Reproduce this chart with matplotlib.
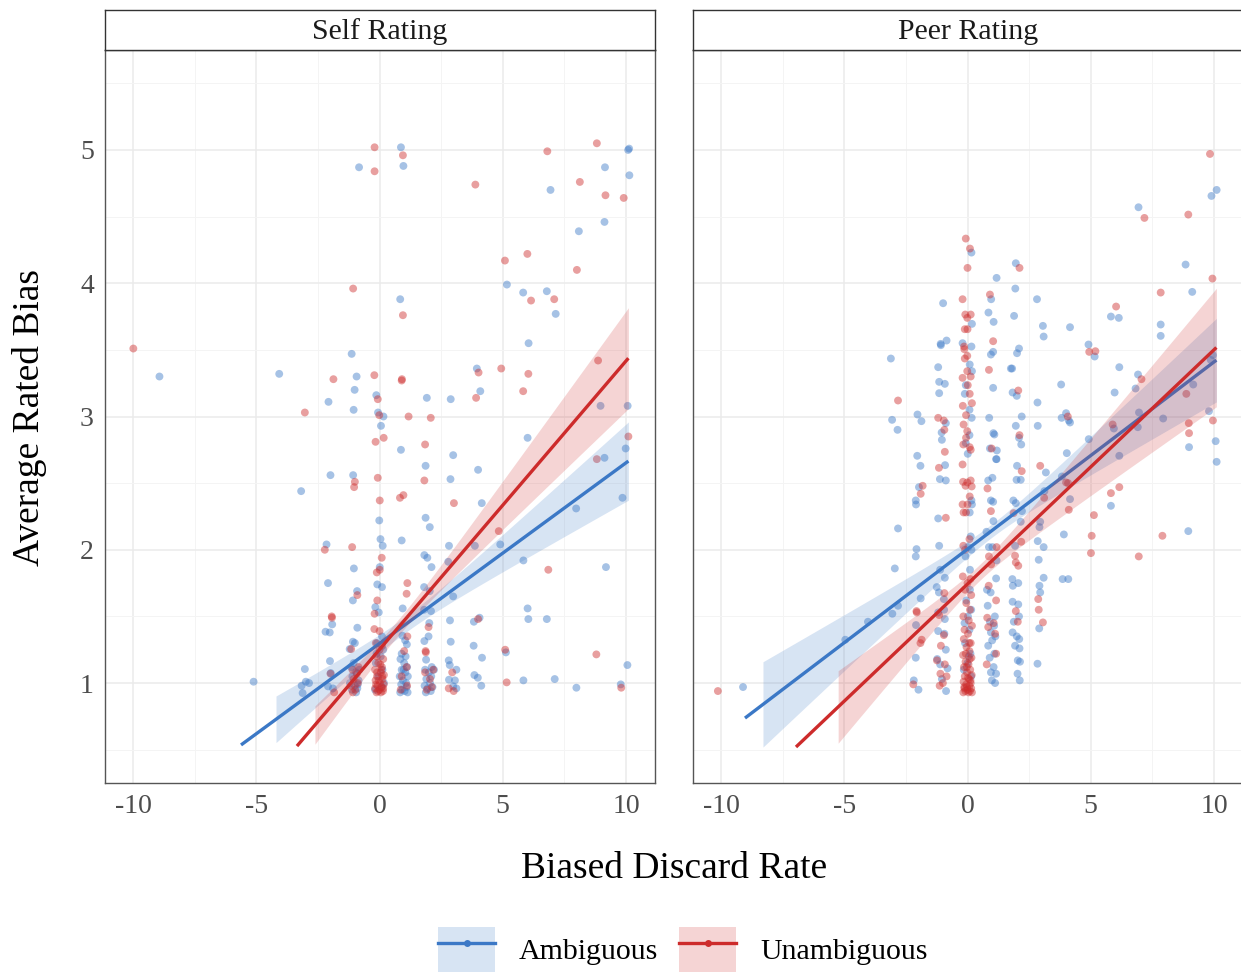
import numpy as np
import matplotlib
matplotlib.use("Agg")
import matplotlib.pyplot as plt
from matplotlib.patches import Patch
from matplotlib.lines import Line2D
from matplotlib.legend_handler import HandlerTuple

plt.rcParams['font.family'] = ['Liberation Serif', 'DejaVu Serif']

BLUE = '#3B78C6'
RED = '#CD2B2B'
GRID_MAJOR = '#EBEBEB'
GRID_MINOR = '#F4F4F4'

groups = ['Ambiguous', 'Unambiguous']
panels = ['Self Rating', 'Peer Rating']

# ---- Self rating, ambiguous items
self_amb = [
    (0.87, 5.02), (-0.83, 4.87), (0.97, 4.88), (6.94, 4.70), (10.09, 5.0), (10.13, 5.01),
    (9.15, 4.87), (10.14, 4.81), (9.13, 4.46), (8.09, 4.39), (5.17, 3.99), (5.83, 3.93),
    (6.79, 3.94), (7.15, 3.77), (0.84, 3.88), (6.05, 3.55), (-8.93, 3.30), (-4.07, 3.32),
    (-1.13, 3.47), (-0.93, 3.30), (-1.01, 3.20), (-2.07, 3.11), (-1.05, 3.05), (-0.13, 3.16),
    (-0.06, 3.03), (0.16, 3.0), (0.06, 2.93), (1.92, 3.14), (2.89, 3.13), (3.95, 3.36),
    (4.09, 3.19), (8.97, 3.08), (10.07, 3.08), (9.99, 2.76), (6.01, 2.84), (0.87, 2.75),
    (2.99, 2.71), (9.13, 2.69),
    (1.87, 2.63), (4.0, 2.60), (-1.99, 2.56), (-1.07, 2.56), (2.88, 2.53), (-3.18, 2.44),
    (4.15, 2.35), (9.86, 2.39), (7.98, 2.31), (1.87, 2.24), (2.04, 2.17), (-0.01, 2.22),
    (0.04, 2.08), (0.13, 2.03), (0.90, 2.07), (-2.15, 2.04), (2.82, 2.03), (3.87, 2.03),
    (4.90, 2.04), (1.82, 1.96), (1.94, 1.94), (2.11, 1.87), (2.79, 1.91), (5.84, 1.92),
    (9.19, 1.87), (-1.04, 1.86), (0.01, 1.87), (-2.09, 1.75), (-0.09, 1.74), (0.10, 1.72),
    (-0.91, 1.69), (1.81, 1.72), (2.04, 1.69), (2.99, 1.65), (-1.08, 1.62), (-0.17, 1.57),
    (-0.03, 1.53), (0.94, 1.56), (1.81, 1.55), (2.09, 1.54), (-1.92, 1.44), (-0.90, 1.415),
    (-2.19, 1.385), (-2.02, 1.38), (2.86, 1.47), (3.83, 1.46), (4.06, 1.49), (6.01, 1.56),
    (6.04, 1.48), (6.79, 1.48), (2.02, 1.45), (0.93, 1.355), (1.11, 1.29), (1.04, 1.32),
    (-1.08, 1.31), (-1.0, 1.30), (1.82, 1.315), (1.99, 1.35), (2.89, 1.31), (3.82, 1.28),
    (-1.21, 1.255), (5.13, 1.23), (4.16, 1.19), (10.06, 1.135), (-2.01, 1.165), (-3.03, 1.105),
    (1.89, 1.175), (2.81, 1.17), (2.85, 1.135), (3.12, 1.10), (2.21, 1.10), (-1.98, 1.075),
    (-5.11, 1.01), (-3.16, 0.98), (-2.99, 1.01), (-2.86, 1.0), (-3.12, 0.925), (-2.09, 0.975),
    (-1.89, 0.96), (2.82, 1.025), (3.06, 1.02), (2.99, 0.975), (3.12, 0.96), (3.85, 1.06),
    (3.99, 1.04), (4.13, 0.98), (5.84, 1.02), (7.11, 1.03), (7.99, 0.965), (9.79, 0.99),
    (-1.15, 1.12), (-0.95, 1.08), (-1.1, 1.05), (-0.85, 1.02), (-1.2, 1.0), (-1.0, 0.98),
    (-0.9, 0.96), (-1.12, 0.95), (-0.95, 0.93), (-0.82, 1.1), (-1.05, 1.15), (-0.88, 0.99),
    (-0.1, 1.3), (0.15, 1.25), (0.05, 1.2), (-0.15, 1.15), (0.12, 1.1), (-0.05, 1.05),
    (0.18, 1.0), (-0.18, 0.95), (0.08, 0.97), (0.1, 1.35), (-0.12, 1.22),
    (0.85, 1.18), (1.0, 1.15), (1.12, 1.12), (0.9, 1.1), (1.05, 1.08), (0.82, 1.05),
    (1.15, 1.05), (0.95, 1.02), (1.08, 1.0), (0.88, 0.99), (1.1, 0.97), (0.92, 0.95),
    (1.02, 0.94), (1.14, 0.93), (0.84, 0.93), (0.98, 1.1), (1.06, 1.2), (0.9, 1.22),
    (1.85, 1.1), (2.0, 1.08), (2.1, 1.05), (1.9, 1.03), (2.05, 1.0), (1.83, 0.98),
    (2.15, 0.97), (1.95, 0.96), (2.08, 0.94), (1.88, 0.93), (2.12, 1.12),
]

# ---- Self rating, unambiguous items
self_unamb = [
    (-0.2, 5.02), (0.95, 4.96), (-0.2, 4.84), (3.89, 4.74), (6.81, 4.99), (8.82, 5.05),
    (8.13, 4.76), (9.17, 4.66), (9.91, 4.64), (6.0, 4.22), (5.09, 4.17), (8.01, 4.10),
    (6.15, 3.87), (7.09, 3.88), (-1.07, 3.96), (0.95, 3.76), (-9.99, 3.51), (-1.87, 3.28),
    (-0.21, 3.31), (0.90, 3.27), (0.91, 3.28), (-3.03, 3.03), (-0.07, 3.13), (-0.01, 3.01),
    (1.18, 3.0), (2.08, 2.99), (4.02, 3.33), (3.92, 3.14), (4.94, 3.36), (6.04, 3.32),
    (5.83, 3.19), (8.87, 3.42), (10.1, 2.85), (-0.16, 2.81), (0.17, 2.84), (1.85, 2.79),
    (8.82, 2.68),
    (-1.0, 2.51), (-1.03, 2.47), (-0.07, 2.54), (1.82, 2.52), (0.01, 2.37), (0.83, 2.39),
    (0.97, 2.41), (3.02, 2.35), (4.84, 2.14), (-2.22, 2.0), (-1.11, 2.02), (0.09, 1.94),
    (6.85, 1.85), (0.01, 1.85), (-0.11, 1.83), (-0.90, 1.66), (1.13, 1.75), (1.10, 1.67),
    (-0.09, 1.62), (-0.20, 1.52), (-1.94, 1.50), (-1.93, 1.49), (-0.21, 1.405), (0.0, 1.39),
    (4.0, 1.48), (1.99, 1.42), (1.13, 1.35), (-1.15, 1.255), (5.10, 1.25), (8.80, 1.215),
    (1.0, 1.24), (1.87, 1.24), (1.88, 1.23), (2.95, 1.08), (-1.99, 1.07), (-1.84, 0.93),
    (2.81, 0.96), (3.01, 0.94), (5.16, 1.005), (9.81, 0.965),
    (-1.1, 1.1), (-0.92, 1.07), (-1.05, 1.03), (-0.88, 1.0), (-1.15, 0.98), (-0.98, 0.95),
    (-1.08, 0.93), (-0.85, 1.12),
    (-0.15, 1.3), (0.1, 1.28), (0.0, 1.25), (-0.12, 1.2), (0.15, 1.18), (-0.05, 1.15),
    (0.1, 1.12), (-0.18, 1.1), (0.05, 1.08), (0.18, 1.06), (-0.1, 1.05), (0.12, 1.03),
    (-0.16, 1.02), (0.02, 1.0), (0.17, 0.99), (-0.08, 0.98), (0.09, 0.97), (-0.18, 0.96),
    (0.0, 0.95), (0.14, 0.94), (-0.12, 0.93), (0.06, 0.93), (-0.03, 1.02), (0.08, 1.1),
    (-0.1, 1.08), (0.15, 0.96), (-0.06, 0.94), (0.11, 1.05), (-0.14, 0.99), (0.03, 1.14),
    (1.1, 1.12), (0.9, 1.05), (1.12, 0.98), (0.86, 0.95),
    (1.85, 1.08), (2.05, 1.03), (2.12, 0.97), (1.92, 0.95), (2.18, 1.1),
]

# ---- Peer rating, ambiguous items
peer_amb = [
    (10.11, 4.70), (9.90, 4.655), (6.94, 4.57), (8.85, 4.14), (9.12, 3.935), (0.16, 4.23),
    (1.96, 4.15), (1.18, 4.04), (1.94, 3.96), (2.82, 3.88), (0.96, 3.88), (-0.99, 3.85),
    (0.85, 3.78), (0.18, 3.695), (1.06, 3.71), (1.89, 3.755), (3.06, 3.68), (3.09, 3.60),
    (4.16, 3.67), (5.82, 3.75), (6.14, 3.74), (7.84, 3.69), (7.84, 3.605), (-0.85, 3.57),
    (-1.09, 3.545), (-1.08, 3.535), (-0.2, 3.55), (0.16, 3.525), (2.09, 3.51), (2.01, 3.475),
    (1.04, 3.485), (0.95, 3.465), (-3.11, 3.435), (0.09, 3.39), (0.18, 3.34), (1.76, 3.36),
    (1.81, 3.36), (-1.19, 3.37), (-1.15, 3.26), (-0.92, 3.245), (-1.15, 3.175), (-0.07, 3.235),
    (-0.11, 3.17), (1.04, 3.215), (1.83, 3.18), (2.0, 3.155), (3.80, 3.24), (2.84, 3.105),
    (4.91, 3.54), (5.16, 3.45), (6.16, 3.37), (5.97, 3.18), (6.92, 3.315), (6.82, 3.21),
    (9.96, 3.46), (9.87, 3.425), (9.16, 3.24), (9.80, 3.04), (10.07, 2.815), (8.99, 2.77),
    (7.94, 2.985), (6.96, 3.03), (6.91, 2.92), (5.94, 2.91), (4.92, 2.83), (4.03, 2.725),
    (6.16, 2.705), (-3.06, 2.975), (-2.84, 2.90), (-2.03, 3.015), (-1.87, 2.965), (-0.88, 2.95),
    (-1.05, 2.88), (-1.04, 2.825), (-2.04, 2.705), (0.08, 3.05), (0.17, 2.99), (0.08, 2.86),
    (-0.07, 2.80), (0.01, 2.72), (0.88, 2.99), (1.05, 2.875), (1.09, 2.865), (0.91, 2.76),
    (1.19, 2.745), (1.18, 2.68), (2.2, 3.0), (1.96, 2.93), (2.09, 2.84), (2.18, 2.79),
    (2.85, 2.93), (3.82, 2.99), (4.0, 3.025), (4.11, 2.97), (4.16, 2.955),
    (10.11, 2.66), (-1.91, 2.63), (-0.91, 2.635), (0.84, 2.52), (1.01, 2.54), (1.16, 2.68),
    (2.01, 2.63), (3.18, 2.58), (1.99, 2.525), (2.16, 2.525), (3.83, 2.55), (-1.12, 2.53),
    (-0.88, 2.52), (-1.97, 2.47), (-2.10, 2.37), (-2.09, 2.34), (0.16, 2.37), (0.18, 2.34),
    (0.09, 2.28), (0.95, 2.37), (1.04, 2.36), (1.86, 2.37), (1.96, 2.35), (2.21, 2.29),
    (3.12, 2.44), (4.16, 2.38), (5.82, 2.33), (-2.82, 2.16), (-1.19, 2.235), (0.77, 2.135),
    (1.05, 2.215), (2.16, 2.21), (2.92, 2.17), (2.95, 2.21), (3.91, 2.115), (8.96, 2.14),
    (-2.07, 2.005), (-2.10, 1.95), (-1.15, 2.03), (-2.95, 1.86), (-1.11, 1.85), (-0.92, 1.79),
    (0.03, 2.02), (0.16, 2.0), (0.87, 2.02), (1.01, 2.02), (1.18, 1.92), (1.93, 2.03),
    (2.85, 2.065), (3.09, 2.02), (2.89, 1.925), (3.09, 1.79), (3.86, 1.78), (4.09, 1.78),
    (1.16, 1.785), (1.82, 1.78), (2.06, 1.75), (1.84, 1.73), (2.92, 1.73), (2.95, 1.68),
    (2.91, 1.41), (2.84, 1.145), (-1.25, 1.72), (-1.16, 1.68), (-1.90, 1.635), (-0.96, 1.63),
    (-2.09, 1.435), (-2.82, 1.58), (-3.05, 1.52), (-4.04, 1.46), (-4.96, 1.325), (-2.10, 1.19),
    (-2.18, 1.02), (-1.99, 0.95), (-9.11, 0.97), (-0.87, 0.94),
    (-1.19, 1.53), (-0.95, 1.55), (-0.92, 1.48), (-1.19, 1.39), (-0.94, 1.37), (-0.88, 1.25),
    (-1.23, 1.18), (-1.11, 1.14), (-0.81, 1.11), (-1.04, 1.03),
    (0.1, 1.7), (-0.05, 1.62), (0.15, 1.55), (-0.12, 1.45), (0.08, 1.4), (-0.1, 1.3),
    (0.12, 1.22), (0.0, 1.15), (-0.15, 1.1), (0.15, 1.05), (0.05, 1.2), (0.02, 1.5),
    (0.1, 1.85), (-0.08, 1.95), (0.13, 2.1),
    (0.79, 1.7), (0.94, 1.68), (0.82, 1.58), (1.11, 1.5), (0.91, 1.46), (1.08, 1.43),
    (0.95, 1.38), (1.13, 1.35), (1.0, 1.32), (0.84, 1.28), (1.09, 1.22), (0.9, 1.19),
    (1.06, 1.12), (0.95, 1.08), (1.16, 1.07), (0.99, 1.02), (1.12, 1.0),
    (1.83, 1.61), (2.06, 1.59), (2.09, 1.5), (1.88, 1.46), (1.83, 1.38), (2.0, 1.35),
    (2.1, 1.33), (1.93, 1.28), (2.11, 1.26), (2.04, 1.17), (2.13, 1.16), (2.03, 1.07),
    (2.12, 1.02),
]

# ---- Peer rating, unambiguous items
peer_unamb = [
    (9.84, 4.97), (7.18, 4.49), (8.96, 4.515), (9.94, 4.035), (7.84, 3.93), (-0.07, 4.335),
    (0.10, 4.26), (0.0, 4.115), (2.11, 4.115), (0.91, 3.915), (-0.2, 3.88), (-0.09, 3.765),
    (0.13, 3.765), (-0.01, 3.74), (6.03, 3.825), (-0.11, 3.655), (0.0, 3.655), (-0.14, 3.525),
    (-0.13, 3.505), (1.04, 3.565), (-0.01, 3.455), (-0.11, 3.435), (-0.01, 3.34), (0.87, 3.35),
    (-0.20, 3.29), (0.13, 3.30), (0.01, 3.235), (0.09, 3.17), (2.06, 3.195), (4.94, 3.485),
    (5.19, 3.49), (7.06, 3.28), (8.88, 3.17), (9.96, 2.97), (8.98, 2.95), (8.99, 2.875),
    (5.89, 2.94), (-2.82, 3.12), (-1.19, 2.99), (-0.96, 2.97), (-0.94, 2.90), (-0.92, 2.735),
    (-0.19, 3.08), (-0.06, 3.01), (-0.16, 2.94), (0.18, 3.10), (-0.01, 2.89), (-0.06, 2.84),
    (-0.17, 2.79), (0.13, 2.75), (0.09, 2.77), (0.98, 2.76), (2.11, 2.86), (4.07, 3.0),
    (-1.16, 2.615), (-0.2, 2.64), (0.81, 2.46), (2.2, 2.59), (2.95, 2.63), (-1.82, 2.48),
    (-1.90, 2.42), (-0.18, 2.51), (-0.01, 2.505), (0.13, 2.52), (-0.08, 2.48), (0.17, 2.475),
    (0.09, 2.40), (-0.2, 2.34), (0.0, 2.34), (-0.16, 2.28), (-0.06, 2.28), (0.95, 2.29),
    (1.87, 2.275), (3.11, 2.39), (4.0, 2.505), (4.08, 2.50), (4.11, 2.30), (5.82, 2.425),
    (6.16, 2.47), (5.13, 2.26), (-0.88, 2.24), (5.04, 2.105), (7.91, 2.105), (5.01, 1.975),
    (6.95, 1.95), (-0.17, 2.03), (-0.1, 2.0), (0.08, 2.08), (1.18, 2.02), (0.87, 1.95),
    (0.96, 1.89), (1.93, 1.955), (1.96, 1.905), (2.06, 1.88), (2.18, 2.06), (2.87, 1.63),
    (2.89, 1.55), (3.06, 1.455), (-0.94, 1.675), (-2.07, 1.54), (-2.06, 1.53), (-1.86, 1.325),
    (-1.91, 1.30), (-2.20, 0.99), (-10.13, 0.94),
    (-1.15, 1.51), (-0.96, 1.36), (-1.08, 1.28), (-1.24, 1.17), (-0.92, 1.14), (-1.1, 1.07),
    (-0.85, 1.05), (-1.0, 1.0), (-1.13, 0.98),
    (-0.19, 1.8), (0.12, 1.78), (0.0, 1.75), (-0.1, 1.7), (0.15, 1.66), (-0.05, 1.6),
    (0.1, 1.55), (-0.17, 1.5), (0.05, 1.47), (0.18, 1.43), (-0.12, 1.4), (0.02, 1.37),
    (-0.15, 1.33), (0.13, 1.3), (-0.04, 1.27), (0.08, 1.24), (-0.18, 1.21), (0.16, 1.19),
    (-0.08, 1.16), (0.04, 1.14), (-0.14, 1.12), (0.11, 1.1), (-0.02, 1.08), (0.17, 1.06),
    (-0.11, 1.05), (0.06, 1.03), (-0.16, 1.01), (0.13, 1.0), (-0.05, 0.99), (0.08, 0.98),
    (-0.13, 0.97), (0.15, 0.96), (0.0, 0.95), (-0.09, 0.94), (0.1, 0.94), (-0.17, 0.93),
    (0.04, 0.93), (0.18, 0.93), (-0.03, 1.12), (0.09, 1.18), (-0.07, 1.22), (0.02, 1.04),
    (-0.12, 0.96), (0.12, 1.02), (-0.02, 0.97), (0.07, 1.3),
    (0.86, 1.73), (1.16, 1.62), (0.8, 1.49), (1.06, 1.45), (0.84, 1.42), (1.12, 1.37),
    (1.16, 1.22), (0.78, 1.14),
    (1.96, 1.54), (2.04, 1.46),
]

# linear fits: [intercept, slope, line start, line end, ribbon start, se at centre, se slope, centre]
self_amb_fit = [1.297, 0.1355, -5.62, 10.1, -4.2, 0.06, 0.0316, 1.0]
self_unamb_fit = [1.252, 0.2164, -3.35, 10.1, -2.62, 0.06, 0.0397, 0.68]
peer_amb_fit = [2.005, 0.1404, -9.03, 10.1, -8.3, 0.05, 0.034, 1.0]
peer_unamb_fit = [1.743, 0.1757, -6.96, 10.1, -5.25, 0.06, 0.046, 0.52]

panel_points = [(self_amb, self_unamb), (peer_amb, peer_unamb)]
panel_fits = [(self_amb_fit, self_unamb_fit), (peer_amb_fit, peer_unamb_fit)]
colors = [BLUE, RED]

fig = plt.figure(figsize=(12.41, 9.73), dpi=100)
W, H = 1241, 973

axes_px = [(105, 655), (693, 1243)]
for p, (x0, x1) in enumerate(axes_px):
    ax = fig.add_axes([x0 / W, (H - 783) / H, (x1 - x0) / W, 733 / H])
    strip = fig.add_axes([x0 / W, (H - 50) / H, (x1 - x0) / W, 40 / H])

    ax.set_xlim(-11.14, 11.18)
    ax.set_ylim(0.25, 5.75)
    ax.set_xticks([-10, -5, 0, 5, 10])
    ax.set_xticks([-7.5, -2.5, 2.5, 7.5], minor=True)
    ax.set_yticks([1, 2, 3, 4, 5])
    ax.set_yticks([0.5, 1.5, 2.5, 3.5, 4.5, 5.5], minor=True)
    ax.set_xticklabels(['-10', '-5', '0', '5', '10'])
    if p == 0:
        ax.set_yticklabels(['1', '2', '3', '4', '5'])
    else:
        ax.set_yticklabels([])
    ax.grid(which='major', color=GRID_MAJOR, lw=1.1)
    ax.grid(which='minor', color=GRID_MINOR, lw=0.7)
    ax.set_axisbelow(True)
    ax.tick_params(which='both', length=0, labelsize=20, labelcolor='#4D4D4D', pad=8)
    for s in ax.spines.values():
        s.set_color('#555555')
        s.set_linewidth(1.0)

    for pts, col in zip(panel_points[p], colors):
        xs = [v[0] for v in pts]
        ys = [v[1] for v in pts]
        ax.scatter(xs, ys, s=32, color=col, alpha=0.45, edgecolors='none', zorder=2)

    for fit, col in zip(panel_fits[p], colors):
        a, b, xs0, xs1, xb0, h0, k, xc = fit
        xl = np.linspace(xs0, xs1, 200)
        xb = np.linspace(xb0, xs1, 200)
        yb = a + b * xb
        hw = np.sqrt(h0 ** 2 + (k * (xb - xc)) ** 2)
        ax.fill_between(xb, yb - hw, yb + hw, color=col, alpha=0.2, lw=0, zorder=3)
        ax.plot(xl, a + b * xl, color=col, lw=2.4, zorder=3, solid_capstyle='butt')

    strip.set_xticks([])
    strip.set_yticks([])
    for s in strip.spines.values():
        s.set_color('#333333')
        s.set_linewidth(1.0)
    strip.text(0.5, 0.45, panels[p], ha='center', va='center', fontsize=21.5,
               color='#1A1A1A', transform=strip.transAxes)

fig.text(30 / W, 1 - 417 / H, 'Average Rated Bias', rotation=90, ha='center',
         va='center', fontsize=27)
fig.text(674 / W, 1 - 869 / H, 'Biased Discard Rate', ha='center', va='center',
         fontsize=27)

handles = []
for col in colors:
    handles.append((Patch(facecolor=col, alpha=0.2, lw=0),
                    Line2D([], [], color=col, lw=2.4, marker='o', markersize=5,
                           markerfacecolor=col, markeredgewidth=0)))
fig.legend(handles, groups, loc='lower center', bbox_to_anchor=(683 / W, -0.017), ncol=2,
           frameon=False, fontsize=21.5, handlelength=1.9, handleheight=1.9,
           handletextpad=0.8, columnspacing=0.7, borderpad=0.1,
           handler_map={tuple: HandlerTuple(ndivide=1, pad=0)})

fig.savefig('out.png', dpi=100)
